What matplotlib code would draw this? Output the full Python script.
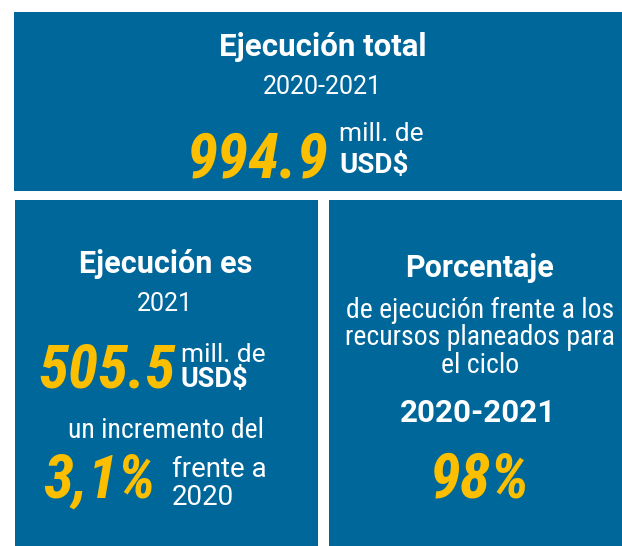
import matplotlib
matplotlib.use("Agg")
import matplotlib.pyplot as plt
from matplotlib import font_manager
from matplotlib.patches import Rectangle

# values shown in the three panels
total_execution = 994.9        # mill. USD$, 2020-2021
execution_2021 = 505.5         # mill. USD$, 2021
increase_vs_2020 = 3.1         # %
execution_vs_planned = 98      # %

BLUE = "#00679b"
YELLOW = "#fbbf00"
WHITE = "white"

installed = {f.name for f in font_manager.fontManager.ttflist}


def pick(*names):
    for name in names:
        if name in installed:
            return name
    return "DejaVu Sans"


NARROW = pick("Roboto Condensed", "Liberation Sans Narrow", "Roboto")
WIDE = pick("Roboto", "DejaVu Sans")


def fmt_es(value, decimals=1):
    return f"{value:.{decimals}f}".replace(".", ",")


def main():
    W, H = 622, 546
    fig = plt.figure(figsize=(W / 100, H / 100), dpi=100)
    ax = fig.add_axes([0, 0, 1, 1])
    ax.set_xlim(0, W)
    ax.set_ylim(H, 0)
    ax.axis("off")

    # panels (x, y, width, height) in pixels
    for x, y, w, h in [(14, 12, 608, 179), (15, 200, 303, 346), (329, 200, 293, 346)]:
        ax.add_patch(Rectangle((x, y), w, h, facecolor=BLUE, edgecolor="none"))

    def txt(x, y, s, size, color=WHITE, weight="normal", style="normal",
            ha="center", family=WIDE):
        ax.text(x, y, s, fontsize=size, color=color, fontweight=weight,
                fontstyle=style, ha=ha, va="baseline", family=family)

    # top panel
    txt(323, 56, "Ejecución total", 22.5, weight="bold")
    txt(322, 94, "2020-2021", 18)
    txt(329, 177, f"{total_execution:.1f}", 45.5, color=YELLOW, weight="bold",
        style="italic", ha="right", family=NARROW)
    txt(339, 141, "mill. de", 19, ha="left")
    txt(339, 173, "USD$", 20, weight="bold", ha="left")

    # bottom left panel
    txt(166, 273, "Ejecución es", 22, weight="bold")
    txt(165, 311, "2021", 18)
    txt(176, 388, f"{execution_2021:.1f}", 44, color=YELLOW, weight="bold",
        style="italic", ha="right", family=NARROW)
    txt(181, 362, "mill. de", 19, ha="left")
    txt(181, 387, "USD$", 19.5, weight="bold", ha="left")
    txt(166, 438, "un incremento del", 20, family=NARROW)
    txt(156, 498, fmt_es(increase_vs_2020) + "%", 44, color=YELLOW,
        weight="bold", style="italic", ha="right", family=NARROW)
    txt(172, 477, "frente a", 20, ha="left")
    txt(172, 505, "2020", 20, ha="left")

    # bottom right panel
    txt(480, 277, "Porcentaje", 22, weight="bold")
    txt(480, 318, "de ejecución frente a los", 20, family=NARROW)
    txt(480, 345, "recursos planeados para", 20, family=NARROW)
    txt(480, 373, "el ciclo", 20, family=NARROW)
    txt(478, 422, "2020-2021", 22.5, weight="bold")
    txt(480, 498, f"{execution_vs_planned}%", 45, color=YELLOW, weight="bold",
        style="italic", family=NARROW)

    fig.savefig("out.png", dpi=100)
    plt.close(fig)


if __name__ == "__main__":
    main()
